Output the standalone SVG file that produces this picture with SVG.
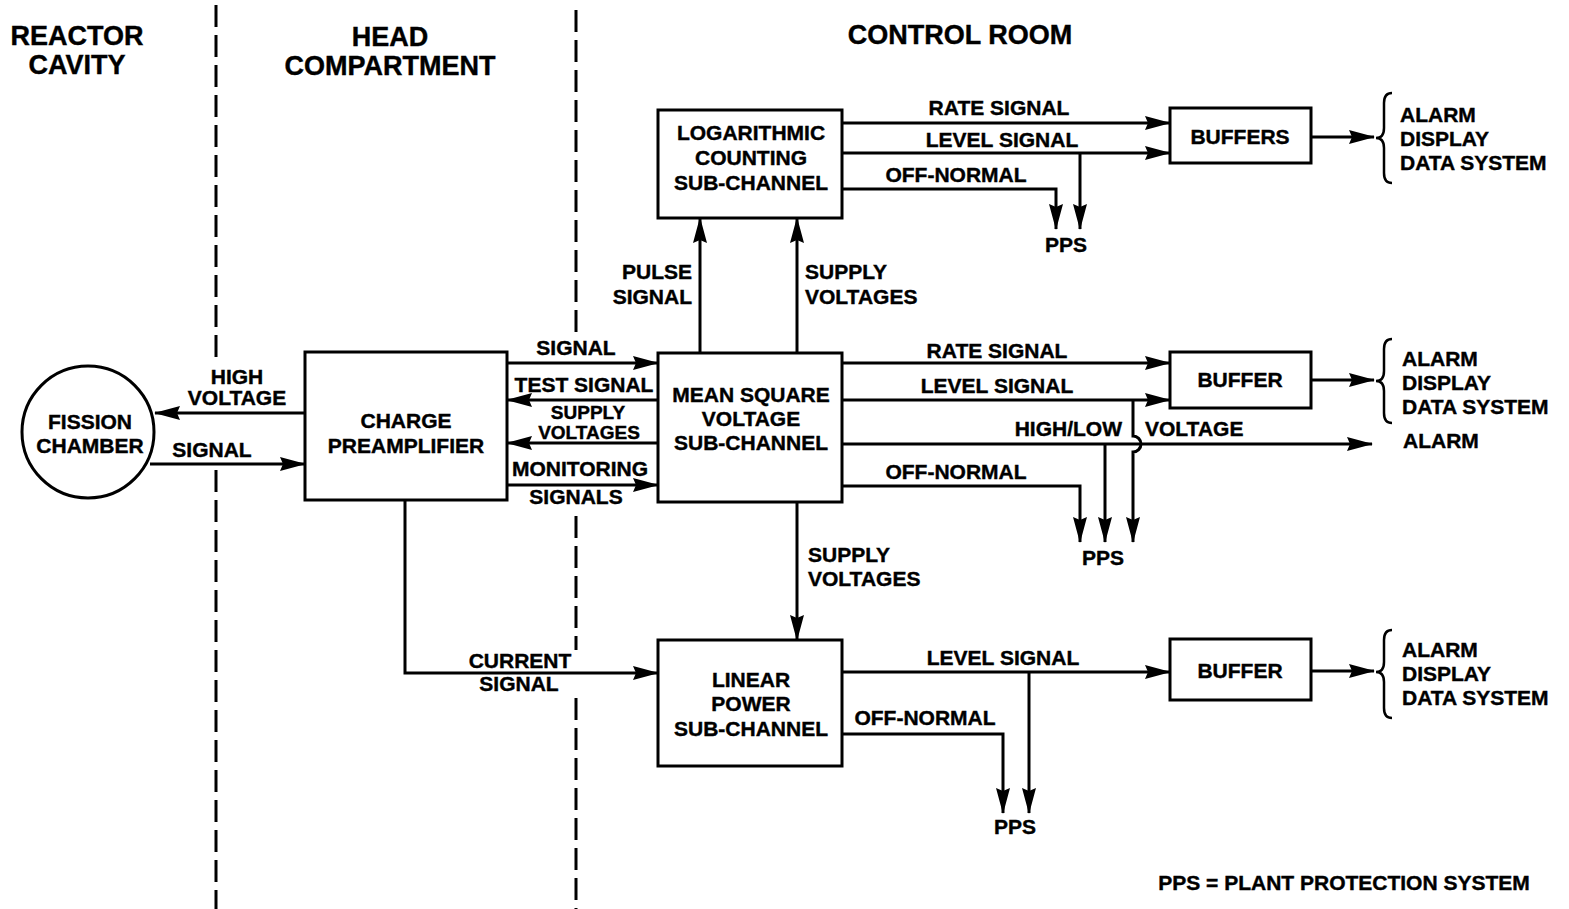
<svg xmlns="http://www.w3.org/2000/svg" width="1569" height="909" viewBox="0 0 1569 909">
<style>
text{font-family:"Liberation Sans",Arial,sans-serif;font-weight:bold;font-size:21px;fill:#000;stroke:#000;stroke-width:0.4}
.h{font-size:27px}
.c{text-anchor:middle}
.e{text-anchor:end}
.s{font-size:19px}
.box{fill:#fff;stroke:#000;stroke-width:3}
.ln{fill:none;stroke:#000;stroke-width:3}
.ar{fill:none;stroke:#000;stroke-width:3;marker-end:url(#ah)}
.dash{fill:none;stroke:#000;stroke-width:3;stroke-dasharray:22 8}
.br{fill:none;stroke:#000;stroke-width:2.5}
</style>
<defs>
<marker id="ah" markerUnits="userSpaceOnUse" viewBox="0 0 26 14" refX="25" refY="7" markerWidth="26" markerHeight="14" orient="auto">
<path d="M0,0 L26,7 L0,14 L3,7 z" fill="#000"/>
</marker>
</defs>
<rect width="1569" height="909" fill="#fff"/>
<g id="zones">
<path class="dash" d="M216,5 V362 M216,470 V909"/>
<path class="dash" d="M576,10 V334 M576,516 V650 M576,698 V909"/>
<text class="h c" x="77" y="45">REACTOR</text>
<text class="h c" x="77" y="74">CAVITY</text>
<text class="h c" x="390" y="46">HEAD</text>
<text class="h c" x="390" y="75">COMPARTMENT</text>
<text class="h c" x="960" y="44">CONTROL ROOM</text>
</g>
<g id="connectors">
<path class="ar" d="M305,413 H155"/>
<path class="ar" d="M150,464 H305"/>
<path class="ar" d="M507,363 H658"/>
<path class="ar" d="M658,400 H507"/>
<path class="ar" d="M658,443 H507"/>
<path class="ar" d="M507,485 H658"/>
<path class="ar" d="M700,353 V218"/>
<path class="ar" d="M797,353 V218"/>
<path class="ar" d="M842,123 H1170"/>
<path class="ar" d="M842,153 H1170"/>
<path class="ar" d="M1080,153 V229"/>
<path class="ar" d="M842,189 H1056 V229"/>
<path class="ar" d="M1310,137 H1374"/>
<path class="ar" d="M842,363 H1170"/>
<path class="ar" d="M842,400 H1170"/>
<path class="ar" d="M1133,400 V436 a8,8 0 0 1 0,16 V542"/>
<path class="ar" d="M842,444 H1372"/>
<path class="ar" d="M1105,444 V542"/>
<path class="ar" d="M842,486 H1080 V542"/>
<path class="ar" d="M1310,380 H1374"/>
<path class="ar" d="M797,502 V640"/>
<path class="ar" d="M405,500 V673 H658"/>
<path class="ar" d="M842,672 H1170"/>
<path class="ar" d="M1029,672 V813"/>
<path class="ar" d="M842,734 H1003 V813"/>
<path class="ar" d="M1310,671 H1374"/>
<path class="br" d="M1392,93 Q1384,93 1384,103 L1384,128 Q1384,138 1376,138 Q1384,138 1384,148 L1384,173 Q1384,183 1392,183"/>
<path class="br" d="M1392,339 Q1384,339 1384,349 L1384,371 Q1384,381 1376,381 Q1384,381 1384,391 L1384,413 Q1384,423 1392,423"/>
<path class="br" d="M1392,630 Q1384,630 1384,640 L1384,662 Q1384,672 1376,672 Q1384,672 1384,682 L1384,708 Q1384,718 1392,718"/>
<text class="c" x="237" y="384">HIGH</text>
<text class="c" x="237" y="405">VOLTAGE</text>
<text class="c" x="212" y="457">SIGNAL</text>
<text class="c" x="576" y="355">SIGNAL</text>
<text class="c" x="584" y="392">TEST SIGNAL</text>
<text class="c s" x="588" y="419">SUPPLY</text>
<text class="c s" x="589" y="439">VOLTAGES</text>
<text class="c" x="580" y="476">MONITORING</text>
<text class="c" x="576" y="504">SIGNALS</text>
<text class="e" x="692" y="279">PULSE</text>
<text class="e" x="692" y="304">SIGNAL</text>
<text x="805" y="279">SUPPLY</text>
<text x="805" y="304">VOLTAGES</text>
<text class="c" x="999" y="115">RATE SIGNAL</text>
<text class="c" x="1002" y="147">LEVEL SIGNAL</text>
<text class="c" x="956" y="182">OFF-NORMAL</text>
<text class="c" x="1066" y="252">PPS</text>
<text x="1400" y="122">ALARM</text>
<text x="1400" y="146">DISPLAY</text>
<text x="1400" y="170">DATA SYSTEM</text>
<text class="c" x="997" y="358">RATE SIGNAL</text>
<text class="c" x="997" y="393">LEVEL SIGNAL</text>
<text class="e" x="1122" y="436">HIGH/LOW</text>
<text x="1145" y="436">VOLTAGE</text>
<text class="c" x="956" y="479">OFF-NORMAL</text>
<text class="c" x="1103" y="565">PPS</text>
<text x="1403" y="448">ALARM</text>
<text x="1402" y="366">ALARM</text>
<text x="1402" y="390">DISPLAY</text>
<text x="1402" y="414">DATA SYSTEM</text>
<text x="808" y="562">SUPPLY</text>
<text x="808" y="586">VOLTAGES</text>
<text class="c" x="520" y="668">CURRENT</text>
<text class="c" x="519" y="691">SIGNAL</text>
<text class="c" x="1003" y="665">LEVEL SIGNAL</text>
<text class="c" x="925" y="725">OFF-NORMAL</text>
<text class="c" x="1015" y="834">PPS</text>
<text x="1402" y="657">ALARM</text>
<text x="1402" y="681">DISPLAY</text>
<text x="1402" y="705">DATA SYSTEM</text>
</g>
<g id="fission-chamber">
<circle cx="88" cy="432" r="66" fill="#fff" stroke="#000" stroke-width="3"/>
<text class="c" x="90" y="429">FISSION</text>
<text class="c" x="90" y="453">CHAMBER</text>
</g>
<g id="charge-preamplifier">
<rect class="box" x="305" y="352" width="202" height="148"/>
<text class="c" x="406" y="428">CHARGE</text>
<text class="c" x="406" y="453">PREAMPLIFIER</text>
</g>
<g id="log-counting">
<rect class="box" x="658" y="110" width="184" height="108"/>
<text class="c" x="751" y="140">LOGARITHMIC</text>
<text class="c" x="751" y="165">COUNTING</text>
<text class="c" x="751" y="190">SUB-CHANNEL</text>
</g>
<g id="mean-square">
<rect class="box" x="658" y="353" width="184" height="149"/>
<text class="c" x="751" y="402">MEAN SQUARE</text>
<text class="c" x="751" y="426">VOLTAGE</text>
<text class="c" x="751" y="450">SUB-CHANNEL</text>
</g>
<g id="linear-power">
<rect class="box" x="658" y="640" width="184" height="126"/>
<text class="c" x="751" y="687">LINEAR</text>
<text class="c" x="751" y="711">POWER</text>
<text class="c" x="751" y="736">SUB-CHANNEL</text>
</g>
<g id="buffers-top">
<rect class="box" x="1170" y="108" width="141" height="55"/>
<text class="c" x="1240" y="144">BUFFERS</text>
</g>
<g id="buffer-mid">
<rect class="box" x="1170" y="352" width="141" height="56"/>
<text class="c" x="1240" y="387">BUFFER</text>
</g>
<g id="buffer-bottom">
<rect class="box" x="1170" y="639" width="141" height="61"/>
<text class="c" x="1240" y="678">BUFFER</text>
</g>
<g id="legend">
<text class="c" x="1344" y="890">PPS = PLANT PROTECTION SYSTEM</text>
</g>
</svg>
